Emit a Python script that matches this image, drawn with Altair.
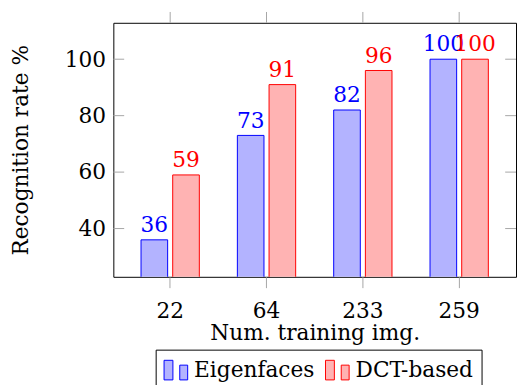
import altair as alt
import pandas as pd

categories = ["22", "64", "233", "259"]
eigenfaces = [36, 73, 82, 100]
dct = [59, 91, 96, 100]
series_names = ["Eigenfaces", "DCT-based"]
y_ticks = [40, 60, 80, 100]

rows = []
for c, e, d in zip(categories, eigenfaces, dct):
    rows.append({"cat": c, "series": "Eigenfaces", "value": e})
    rows.append({"cat": c, "series": "DCT-based", "value": d})
df = pd.DataFrame(rows)
ydf = pd.DataFrame({"value": y_ticks})
xdf = pd.DataFrame({"cat": categories})

W, H = 409, 258
FONT = "DejaVu Serif"
FS = 22
GREY = "#a6a6a6"

xscale = alt.Scale(domain=categories, paddingInner=0, paddingOuter=0.09)
xoff_scale = alt.Scale(domain=series_names, paddingInner=0.16, paddingOuter=0.6)
yscale = alt.Scale(domain=[22.9, 112.9], zero=False, nice=False)
fill_scale = alt.Scale(domain=series_names, range=["#b3b3ff", "#ffb3b3"])
stroke_scale = alt.Scale(domain=series_names, range=["#0000ff", "#ff0000"])

xaxis = alt.Axis(title="Num. training img.", labelAngle=0, tickSize=11,
                 tickColor=GREY, domain=False, labelPadding=13, titlePadding=2)
yaxis = alt.Axis(values=y_ticks, ticks=False, domain=False, grid=False,
                 labelPadding=8, title="Recognition rate %", titlePadding=32)

symbol_path = "M-1,-0.83H-0.25V0.83H-1Z M0.33,-0.42H1V0.83H0.33Z"
legend = alt.Legend(
    title=None, orient="none", legendX=43, legendY=332, direction="horizontal",
    symbolType=symbol_path, symbolSize=576, symbolStrokeWidth=1,
    labelFont=FONT, labelFontSize=FS, labelColor="black",
    strokeColor="black", fillColor="white", padding=8,
    columnPadding=8, labelOffset=6, cornerRadius=0,
)

bars = alt.Chart(df).mark_bar(strokeWidth=1, clip=True).encode(
    x=alt.X("cat:N", scale=xscale, sort=categories, axis=xaxis),
    xOffset=alt.XOffset("series:N", scale=xoff_scale, sort=series_names),
    y=alt.Y("value:Q", scale=yscale, axis=yaxis),
    fill=alt.Fill("series:N", scale=fill_scale, sort=series_names, legend=legend),
    stroke=alt.Stroke("series:N", scale=stroke_scale, sort=series_names, legend=legend),
)

labels = alt.Chart(df).mark_text(dy=-8, baseline="alphabetic", font=FONT, fontSize=FS).encode(
    x=alt.X("cat:N", scale=xscale, sort=categories, axis=xaxis),
    xOffset=alt.XOffset("series:N", scale=xoff_scale, sort=series_names),
    y=alt.Y("value:Q", scale=yscale, axis=yaxis),
    text="value:Q",
    color=alt.Color("series:N", scale=stroke_scale, legend=None),
)

ytick_l = alt.Chart(ydf).mark_rule(color=GREY).encode(
    y=alt.Y("value:Q", scale=yscale, axis=yaxis), x=alt.value(0), x2=alt.value(11))
ytick_r = alt.Chart(ydf).mark_rule(color=GREY).encode(
    y=alt.Y("value:Q", scale=yscale, axis=yaxis), x=alt.value(W - 11), x2=alt.value(W))
xtick_t = alt.Chart(xdf).mark_rule(color=GREY).encode(
    x=alt.X("cat:N", scale=xscale, sort=categories, axis=xaxis), y=alt.value(-11), y2=alt.value(0))

chart = alt.layer(bars, labels, ytick_l, ytick_r, xtick_t).properties(
    width=W, height=H, padding={"left": 2, "top": 0, "right": 0, "bottom": 0}
).configure_view(
    stroke="black", strokeWidth=1
).configure_axis(
    labelFont=FONT, labelFontSize=FS, labelColor="black",
    titleFont=FONT, titleFontSize=FS, titleColor="black", titleFontWeight="normal",
)

chart.save("out.html", embed_options={"renderer": "svg", "actions": False})
